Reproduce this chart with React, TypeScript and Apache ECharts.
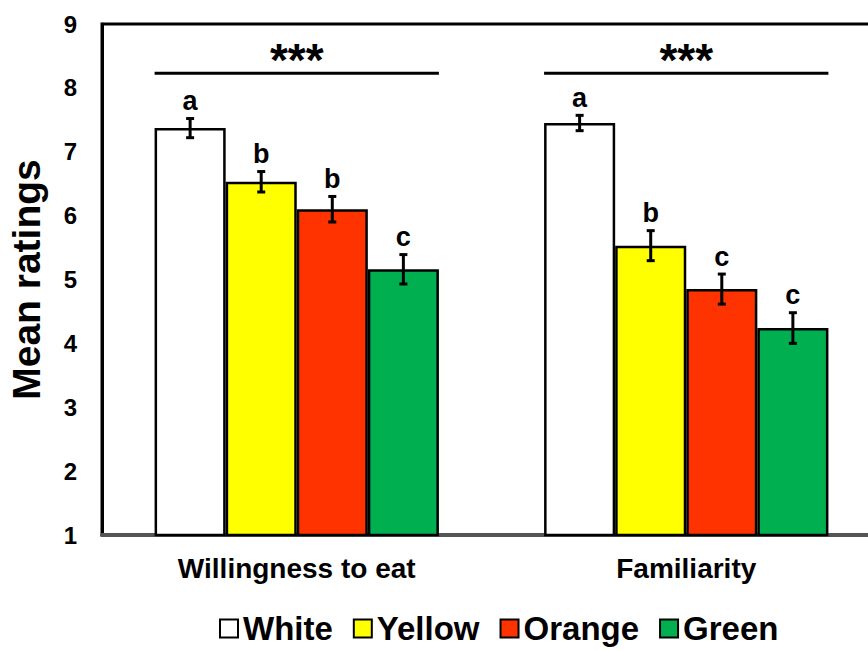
import React, { useEffect, useRef } from "react";
import * as echarts from "echarts";

const categories = ["Willingness to eat", "Familiarity"];
const seriesNames = ["White", "Yellow", "Orange", "Green"];
const seriesColors = ["#FFFFFF", "#FFFF00", "#FF3300", "#00B050"];

const whiteMeans = [7.37, 7.45];
const yellowMeans = [6.53, 5.53];
const orangeMeans = [6.1, 4.85];
const greenMeans = [5.16, 4.24];

const whiteErr = [0.15, 0.12];
const yellowErr = [0.16, 0.235];
const orangeErr = [0.2, 0.235];
const greenErr = [0.23, 0.24];

const whiteLetters = ["a", "a"];
const yellowLetters = ["b", "b"];
const orangeLetters = ["b", "c"];
const greenLetters = ["c", "c"];

const sigLevels = [8.23, 8.23];
const sigLabels = ["***", "***"];

const yTicks = { min: 1, max: 9, interval: 1 };

const FONT = "'Liberation Sans', Arial, sans-serif";
const GAP = 0.27;

export default function App() {
  const ref = useRef<HTMLDivElement>(null);

  useEffect(() => {
    if (!ref.current) return;
    const chart = echarts.init(ref.current, null, { renderer: "svg" });

    const means = [whiteMeans, yellowMeans, orangeMeans, greenMeans];
    const errs = [whiteErr, yellowErr, orangeErr, greenErr];
    const letters = [whiteLetters, yellowLetters, orangeLetters, greenLetters];

    const errData: number[][] = [];
    const errLetters: string[] = [];
    means.forEach((m, s) => {
      m.forEach((v, c) => {
        errData.push([c, s, v, errs[s][c]]);
        errLetters.push(letters[s][c]);
      });
    });

    const barSeries = seriesNames.map((name, s) => ({
      name,
      type: "bar",
      data: means[s],
      barGap: "0%",
      barCategoryGap: GAP * 100 + "%",
      itemStyle: { color: seriesColors[s], borderColor: "#000", borderWidth: 2.5 },
      z: 2,
    }));

    const nSeries = seriesNames.length;

    const option: any = {
      animation: false,
      backgroundColor: "#fff",
      grid: {
        left: 102,
        top: 24,
        width: 779,
        height: 511,
        outerBoundsMode: "none",
        containLabel: false,
        show: true,
        borderColor: "#000",
        borderWidth: 3,
        backgroundColor: "transparent",
      },
      legend: {
        top: 607,
        left: 214,
        data: seriesNames,
        icon: "rect",
        itemWidth: 18,
        itemHeight: 18,
        itemGap: 20,
        itemStyle: { borderColor: "#000", borderWidth: 2 },
        textStyle: { fontFamily: FONT, fontWeight: "bold", fontSize: 33, color: "#000" },
      },
      xAxis: {
        type: "category",
        data: categories,
        axisTick: { show: false },
        axisLine: { lineStyle: { color: "#555", width: 4 } },
        axisLabel: { fontFamily: FONT, fontWeight: "bold", fontSize: 28, color: "#000", margin: 19 },
      },
      yAxis: {
        type: "value",
        min: yTicks.min,
        max: yTicks.max,
        interval: yTicks.interval,
        name: "Mean ratings",
        nameLocation: "middle",
        nameGap: 56,
        nameTextStyle: { fontFamily: FONT, fontWeight: "bold", fontSize: 39, color: "#000" },
        axisLine: { show: true, lineStyle: { color: "#000", width: 3 } },
        axisTick: { show: false },
        splitLine: { show: false },
        axisLabel: { fontFamily: FONT, fontWeight: "bold", fontSize: 24, color: "#000", margin: 25 },
      },
      series: [
        ...barSeries,
        {
          type: "custom",
          name: "errors",
          data: errData,
          z: 5,
          renderItem: (params: any, api: any) => {
            const c = api.value(0);
            const s = api.value(1);
            const m = api.value(2);
            const e = api.value(3);
            const band = api.size([1, 0])[0];
            const bw = (band * (1 - GAP)) / nSeries;
            const cx = api.coord([c, m])[0] + (s - (nSeries - 1) / 2) * bw;
            const top = api.coord([c, m + e])[1];
            const bot = api.coord([c, m - e])[1];
            const ls = { stroke: "#000", lineWidth: 3 };
            return {
              type: "group",
              children: [
                { type: "line", shape: { x1: cx, y1: top, x2: cx, y2: bot }, style: ls },
                { type: "line", shape: { x1: cx - 4, y1: top, x2: cx + 4, y2: top }, style: ls },
                { type: "line", shape: { x1: cx - 4, y1: bot, x2: cx + 4, y2: bot }, style: ls },
                {
                  type: "text",
                  x: cx,
                  y: top - 4,
                  style: {
                    text: errLetters[params.dataIndex],
                    fontFamily: FONT,
                    fontWeight: "bold",
                    fontSize: 27,
                    fill: "#000",
                    align: "center",
                    verticalAlign: "bottom",
                  },
                },
              ],
            };
          },
        },
        {
          type: "custom",
          name: "sig",
          data: sigLevels.map((v, i) => [i, v]),
          z: 5,
          renderItem: (params: any, api: any) => {
            const c = api.value(0);
            const v = api.value(1);
            const band = api.size([1, 0])[0];
            const half = (band * (1 - GAP)) / 2;
            const p = api.coord([c, v]);
            return {
              type: "group",
              children: [
                {
                  type: "line",
                  shape: { x1: p[0] - half, y1: p[1], x2: p[0] + half, y2: p[1] },
                  style: { stroke: "#000", lineWidth: 3 },
                },
                {
                  type: "text",
                  x: p[0],
                  y: p[1] + 10,
                  style: {
                    text: sigLabels[params.dataIndex],
                    fontFamily: FONT,
                    fontWeight: "bold",
                    fontSize: 46,
                    fill: "#000",
                    align: "center",
                    verticalAlign: "bottom",
                  },
                },
              ],
            };
          },
        },
      ],
    };

    chart.setOption(option);
    return () => chart.dispose();
  }, []);

  return (
    <div
      ref={ref}
      style={{ position: "fixed", left: 0, top: 0, width: 868, height: 651, background: "#fff" }}
    />
  );
}
